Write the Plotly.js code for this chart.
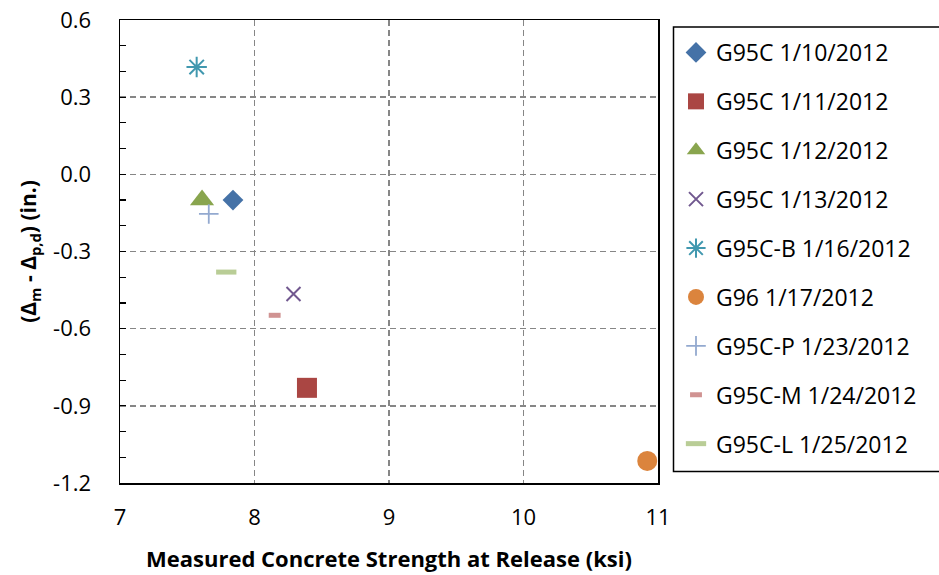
<!DOCTYPE html>
<html>
<head>
<meta charset="utf-8">
<script src="https://cdn.plot.ly/plotly-3.0.1.min.js"></script>
<style>html,body{margin:0;padding:0;background:#fff;}</style>
</head>
<body>
<div id="chart" style="width:939px;height:575px;"></div>
<script>
// ---- data ----
const seriesNames = [
  "G95C 1/10/2012", "G95C 1/11/2012", "G95C 1/12/2012", "G95C 1/13/2012",
  "G95C-B 1/16/2012", "G96 1/17/2012", "G95C-P 1/23/2012", "G95C-M 1/24/2012",
  "G95C-L 1/25/2012"
];
const strengthKsi = [7.84, 8.39, 7.61, 8.29, 7.57, 10.92, 7.66, 8.15, 7.79];
const deltaDiff   = [-0.10, -0.83, -0.10, -0.465, 0.417, -1.114, -0.154, -0.548, -0.38];
const yTickVals   = [0.6, 0.3, 0.0, -0.3, -0.6, -0.9, -1.2];
const yTickText   = ["0.6", "0.3", "0.0", "-0.3", "-0.6", "-0.9", "-1.2"];
const xTickVals   = [7, 8, 9, 10, 11];
const xTickText   = ["7", "8", "9", "10", "11"];

// ---- styles ----
const symbols = ["diamond", "square", "triangle-up", "x-thin-open", "asterisk-open",
                 "circle", "cross-thin-open", "line-ew-open", "line-ew-open"];
const colors  = ["#4572A7", "#AA4643", "#89A54E", "#71588F", "#4198AF",
                 "#DB843D", "#93A9CF", "#D09392", "#B9CD96"];
const sizes   = [16, 20, 21, 14, 17, 20, 14, 8.5, 14.5];
const lineW   = [0, 0, 0, 2, 2, 0, 1.8, 5, 5];

const FONT = "'Open Sans', Lato, sans-serif";

const traces = seriesNames.map((name, i) => ({
  type: "scatter",
  mode: "markers",
  name: name,
  legendgroup: "g" + i,
  x: [strengthKsi[i]],
  y: [deltaDiff[i]],
  marker: {
    symbol: symbols[i],
    size: sizes[i],
    color: colors[i],
    line: {color: colors[i], width: lineW[i]}
  },
  hoverinfo: "x+y+name"
}));

// plot area pixel geometry
const L = 120, R = 658, T = 20, B = 483;
const W = 939, H = 575;
const px2fx = px => (px - L) / (R - L);
const py2fy = py => (B - py) / (B - T);

const layout = {
  width: W, height: H,
  margin: {l: L, r: W - R, t: T, b: H - B, pad: 0},
  paper_bgcolor: "#ffffff",
  plot_bgcolor: "#ffffff",
  font: {family: FONT, size: 22, color: "#000"},
  showlegend: true,
  legend: {
    x: px2fx(676), xanchor: "left",
    y: py2fy(31), yanchor: "top",
    bgcolor: "rgba(0,0,0,0)",
    borderwidth: 0,
    font: {family: FONT, size: 23, color: "#000"},
    traceorder: "grouped",
    tracegroupgap: 16,
    itemclick: false
  },
  xaxis: {
    range: [7, 11],
    tickmode: "array", tickvals: xTickVals, ticktext: xTickText,
    ticks: "", showline: true, mirror: true, linecolor: "#000", linewidth: 1.5,
    showgrid: true, gridcolor: "#868686", gridwidth: 1.5, griddash: "6px,4px",
    zeroline: false,
    ticklabelstandoff: 14,
    tickfont: {family: FONT, size: 22},
    title: {text: "<b>Measured Concrete Strength at Release (ksi)</b>",
            font: {family: FONT, size: 22}, standoff: 21}
  },
  xaxis2: {
    range: [7, 11], overlaying: "x", anchor: "free", position: py2fy(174.3),
    side: "bottom", showline: true, linecolor: "#868686", linewidth: 1.5,
    ticks: "outside", ticklen: 6, tickwidth: 1.2, tickcolor: "#868686",
    tick0: 7, dtick: 0.2, showticklabels: false, showgrid: false, zeroline: false
  },
  yaxis: {
    range: [-1.2, 0.6],
    tickmode: "array", tickvals: yTickVals, ticktext: yTickText,
    ticks: "inside", ticklen: 6, tickwidth: 1.2, tickcolor: "#000",
    minor: {dtick: 0.1, tick0: 0, ticks: "inside", ticklen: 6, tickwidth: 1.2, tickcolor: "#000", showgrid: false},
    showline: true, mirror: true, linecolor: "#000", linewidth: 1.5,
    showgrid: true, gridcolor: "#868686", gridwidth: 1.5, griddash: "6px,4px",
    zeroline: false,
    ticklabelstandoff: 23,
    tickfont: {family: FONT, size: 22},
    title: {text: "<b>(Δ<sub>m</sub> - Δ<sub>p,d</sub>) (in.)</b>",
            font: {family: FONT, size: 21}, standoff: 10}
  },
  shapes: [{
    type: "rect", xref: "paper", yref: "paper",
    x0: px2fx(673.5), x1: px2fx(945), y0: py2fy(471.5), y1: py2fy(27),
    line: {color: "#000", width: 1.5}, fillcolor: "rgba(0,0,0,0)", layer: "above"
  }]
};

Plotly.newPlot("chart", traces, layout, {displayModeBar: false, staticPlot: true});
</script>
</body>
</html>
